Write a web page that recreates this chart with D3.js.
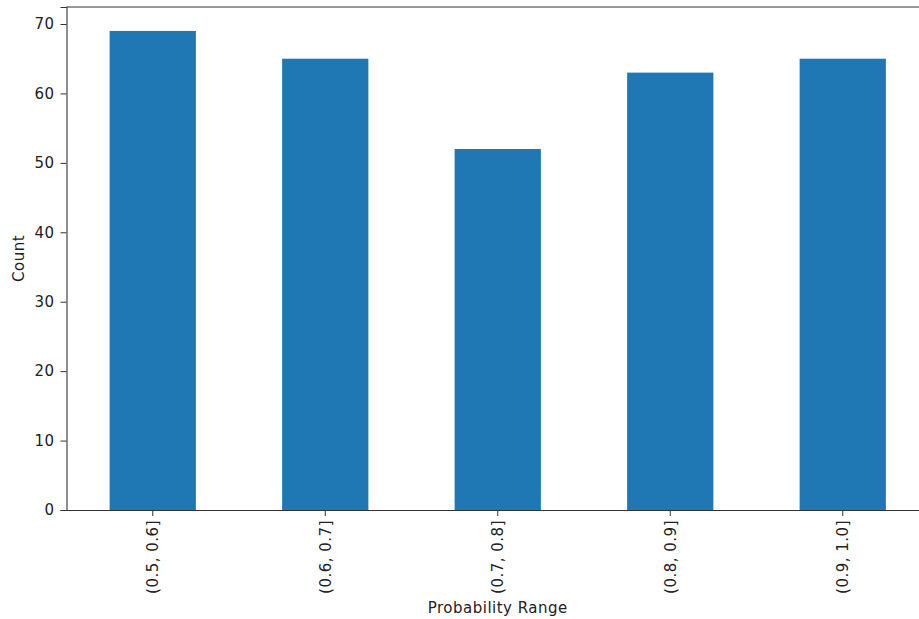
<!DOCTYPE html>
<html>
<head>
<meta charset="utf-8">
<script src="https://cdn.jsdelivr.net/npm/d3@7"></script>
<style>
  body { margin: 0; background: #fff; }
  svg { display: block; overflow: hidden; }
  text { font-family: "DejaVu Sans", sans-serif; fill: #222; letter-spacing: 0.5px; }
</style>
</head>
<body>
<div id="chart"></div>
<script>
// data
const ranges = ['(0.5, 0.6]', '(0.6, 0.7]', '(0.7, 0.8]', '(0.8, 0.9]', '(0.9, 1.0]']
const counts = [69, 65, 52, 63, 65]
const yTicks = [0, 10, 20, 30, 40, 50, 60, 70]

const W = 919, H = 619
const margin = { top: 7, left: 66.5, bottom: 510 }
const plotRight = 929 // axes run past the picture edge, right side is cut off
const fontSize = '15px'

var svg = d3.select('#chart').append('svg')
    .attr('width', W)
    .attr('height', H)

var x = d3.scaleBand()
    .domain(ranges)
    .range([margin.left, plotRight])
    .paddingInner(0.5)
    .paddingOuter(0.25)

var y = d3.scaleLinear()
    .domain([0, d3.max(counts) * 1.05])
    .range([margin.bottom, margin.top])

// bars
svg.append('g')
    .selectAll('rect')
    .data(counts)
    .enter().append('rect')
      .attr('x', (d, i) => x(ranges[i]))
      .attr('y', d => y(d))
      .attr('width', x.bandwidth())
      .attr('height', d => y(0) - y(d))
      .attr('fill', '#1f77b4')

// spines
var spine = '#333'
svg.append('line')
    .attr('x1', margin.left).attr('x2', plotRight)
    .attr('y1', margin.top).attr('y2', margin.top)
    .attr('stroke', spine).attr('stroke-width', 1.1)

var yAxis = d3.axisLeft(y)
    .tickValues(yTicks)
    .tickSize(6)
    .tickPadding(6)

var gy = svg.append('g')
    .attr('transform', 'translate(' + margin.left + ',0)')
    .call(yAxis)
gy.select('.domain').attr('stroke', spine).attr('stroke-width', 1.1)
gy.selectAll('.tick line').attr('stroke', spine)
gy.selectAll('.tick text').style('font-size', fontSize).attr('fill', '#222')

var xAxis = d3.axisBottom(x)
    .tickSize(6)
    .tickSizeOuter(0)

var gx = svg.append('g')
    .attr('transform', 'translate(0,' + margin.bottom + ')')
    .call(xAxis)
gx.select('.domain').attr('stroke', spine).attr('stroke-width', 1.1)
gx.selectAll('.tick line').attr('stroke', spine)
gx.selectAll('.tick text')
    .style('font-size', fontSize)
    .attr('fill', '#222')
    .attr('transform', 'rotate(-90)')
    .attr('text-anchor', 'end')
    .attr('x', -10)
    .attr('y', 0)
    .attr('dy', '0.35em')

// axis labels
svg.append('text')
    .attr('transform', 'translate(24,' + ((margin.top + margin.bottom) / 2) + ') rotate(-90)')
    .attr('text-anchor', 'middle')
    .style('font-size', fontSize)
    .text('Count')

svg.append('text')
    .attr('x', (margin.left + plotRight) / 2)
    .attr('y', 613)
    .attr('text-anchor', 'middle')
    .style('font-size', fontSize)
    .text('Probability Range')
</script>
</body>
</html>
